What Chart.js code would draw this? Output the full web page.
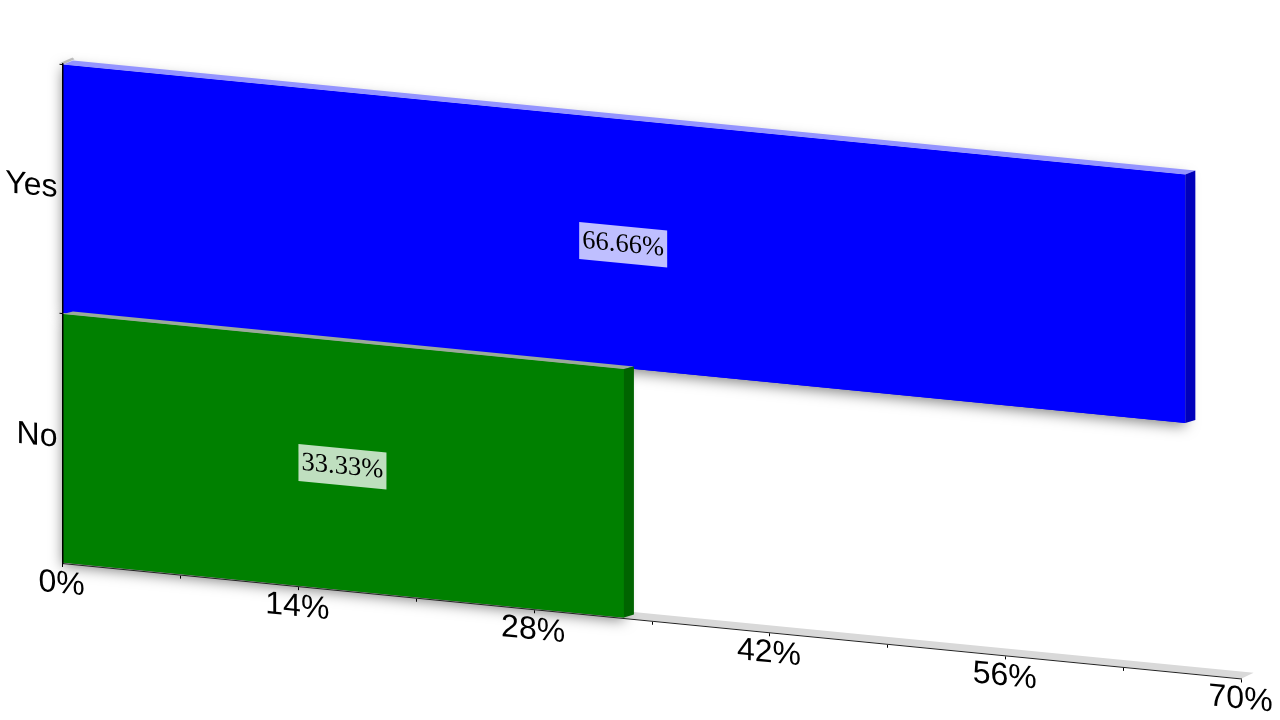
<!DOCTYPE html>
<html>
<head>
<meta charset="utf-8">
<style>
  html, body { margin:0; padding:0; background:#fff; }
  canvas { display:block; }
</style>
<script src="https://cdn.jsdelivr.net/npm/chart.js@4"></script>
</head>
<body>
<canvas id="chart" width="1280" height="720" style="width:1280px;height:720px"></canvas>
<script>
const categories = ['Yes', 'No'];
const shares = [66.66, 33.33];
const barColors = ['#0000ff', '#008000'];
const sideColors = ['#0000bb', '#006400'];
const topColors = ['#9494ff', '#9aaa9a'];
const xTickLabels = ['0%', '', '14%', '', '28%', '', '42%', '', '56%', '', '70%'];

const SLOPE = 0.0979;   // the whole chart is sheared to fake the 3d view
const ORIGIN_X = 62;

function poly(ctx, pts, color){
  ctx.fillStyle = color;
  ctx.beginPath();
  pts.forEach((p, i) => i ? ctx.lineTo(p[0], p[1]) : ctx.moveTo(p[0], p[1]));
  ctx.closePath();
  ctx.fill();
}

const fake3d = {
  id: 'fake3d',
  beforeDraw(chart){
    chart.ctx.save();
    chart.ctx.transform(1, SLOPE, 0, 1, 0, -SLOPE * ORIGIN_X);
  },
  beforeDatasetsDraw(chart){
    const ctx = chart.ctx, a = chart.chartArea;
    // floor and the bit of back wall
    poly(ctx, [[a.left, a.bottom], [a.right, a.bottom], [a.right + 12, a.bottom - 7], [a.left + 12, a.bottom - 7]], '#d9d9d9');
    poly(ctx, [[a.left - 2, a.top - 1], [a.left + 1, a.top], [a.left + 12, a.top - 6], [a.left + 10, a.top - 7.5]], '#c4c4c4');
    // soft shadow under the bars
    ctx.save();
    ctx.shadowColor = 'rgba(0,0,0,0.5)';
    ctx.shadowBlur = 14;
    ctx.shadowOffsetY = 3;
    chart.getDatasetMeta(0).data.forEach((bar, i) => {
      ctx.fillStyle = barColors[i];
      ctx.fillRect(bar.base, bar.y - bar.height / 2, bar.x - bar.base, bar.height);
    });
    ctx.restore();
  },
  afterDatasetsDraw(chart){
    const ctx = chart.ctx;
    chart.getDatasetMeta(0).data.forEach((bar, i) => {
      const x0 = bar.base, x1 = bar.x;
      const top = bar.y - bar.height / 2, bot = bar.y + bar.height / 2;
      const rise = i === 0 ? 5 : 3.5;   // green top face is half hidden by the blue bar
      poly(ctx, [[x0, top], [x1, top], [x1 + 10, top - rise], [x0 + 10, top - rise]], topColors[i]);
      poly(ctx, [[x1, top], [x1 + 10, top - rise], [x1 + 10, bot - 4], [x1, bot]], sideColors[i]);

      // value label in the middle of the bar
      const cx = (x0 + x1) / 2 - 1;
      const cy = bar.y + 1;
      ctx.fillStyle = 'rgba(255,255,255,0.75)';
      ctx.fillRect(cx - 44, cy - 18.5, 88, 37);
      ctx.fillStyle = '#000';
      ctx.font = '26.5px "Liberation Serif"';
      ctx.textAlign = 'center';
      ctx.textBaseline = 'middle';
      ctx.fillText(shares[i].toFixed(2) + '%', cx, cy);
    });
  },
  afterDraw(chart){
    chart.ctx.restore();
  }
};

new Chart(document.getElementById('chart').getContext('2d'), {
  type: 'bar',
  data: {
    labels: categories,
    datasets: [{ data: shares, backgroundColor: barColors, categoryPercentage: 1, barPercentage: 0.996 }]
  },
  options: {
    indexAxis: 'y',
    responsive: false,
    animation: false,
    layout: { padding: { top: 64, right: 38.4, bottom: 0, left: 0 } },
    plugins: { legend: { display: false }, tooltip: { enabled: false } },
    scales: {
      x: {
        min: 0, max: 70,
        afterFit(s){ s.height = 157; },
        border: { color: '#222', width: 1, z: 1 },
        grid: { drawOnChartArea: false, tickLength: 4, tickColor: '#000', z: 1 },
        ticks: {
          stepSize: 7, autoSkip: false, maxRotation: 0, minRotation: 0,
          padding: -2, labelOffset: -1, color: '#000', z: 1,
          font: { family: '"Liberation Sans"', size: 32 },
          callback: (v, i) => xTickLabels[i]
        }
      },
      y: {
        afterFit(s){ s.width = 62.5; },
        border: { color: '#000', width: 1.5, z: 1 },
        grid: {
          drawOnChartArea: false, tickLength: 3, z: 1,
          tickColor: c => c.index < categories.length ? '#000' : 'rgba(0,0,0,0)'
        },
        ticks: {
          padding: 2, color: '#000', z: 1,
          font: { family: '"Liberation Sans"', size: 32 }
        }
      }
    }
  },
  plugins: [fake3d]
});
</script>
</body>
</html>
